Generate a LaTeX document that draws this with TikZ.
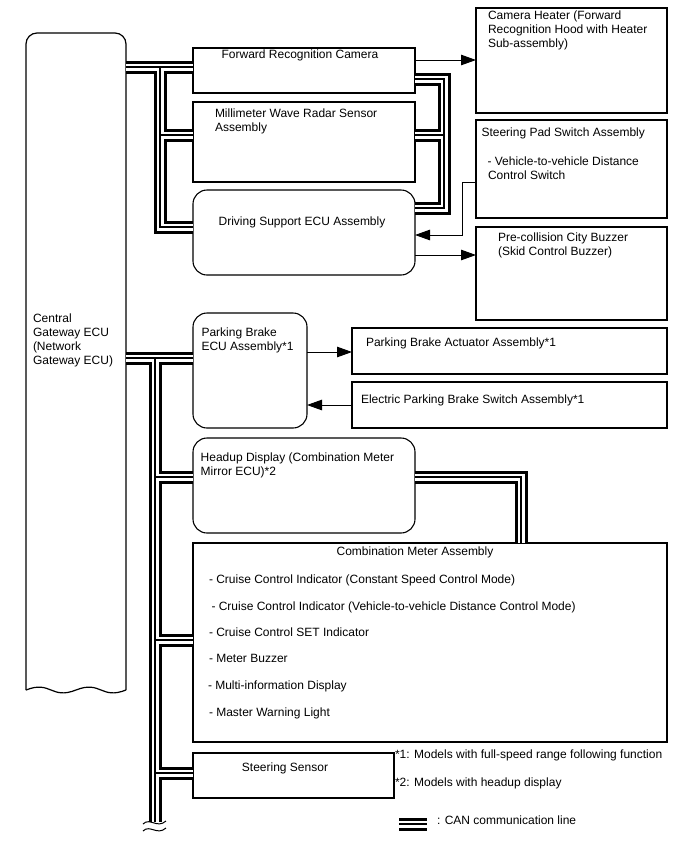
\documentclass[tikz,border=0pt]{standalone}
\usepackage{fontspec}
\setmainfont{Liberation Sans}
\usetikzlibrary{arrows.meta,calc}
\begin{document}
\begin{tikzpicture}[x=1pt,y=-1pt,
  box/.style={draw=black, line width=1.1pt, inner sep=0pt, outer sep=0pt, anchor=north west},
  rbox/.style={box, rounded corners=14pt},
  ghost/.style={inner sep=0pt, outer sep=0pt, anchor=north west},
  txt/.style={anchor=base west, inner sep=0pt, outer sep=0pt, font=\fontsize{12}{14}\selectfont},
  ctxt/.style={txt, anchor=base},
  arr/.style={line width=1pt, -{Triangle[length=15pt,width=10.5pt]}},
  plain/.style={line width=1pt}]
\useasboundingbox (0,0) rectangle (688,852);

% ---------- boxes ----------
\node[ghost, minimum width=100pt, minimum height=657pt] (cgw) at (26,33) {};
\node[box, minimum width=222pt, minimum height=45pt] (cam) at (193,48) {};
\node[box, minimum width=222pt, minimum height=80pt] (mmw) at (193,102) {};
\node[rbox, minimum width=222pt, minimum height=85pt] (ds) at (193,190) {};
\node[box, minimum width=191pt, minimum height=105pt] (heat) at (476,8) {};
\node[box, minimum width=191pt, minimum height=98pt] (spad) at (476,120) {};
\node[box, minimum width=191pt, minimum height=93pt] (pcb) at (476,227) {};
\node[rbox, minimum width=114pt, minimum height=115pt] (pbe) at (193,313) {};
\node[box, minimum width=315pt, minimum height=46pt] (act) at (352,328) {};
\node[box, minimum width=315pt, minimum height=46pt] (epb) at (352,382) {};
\node[rbox, minimum width=222pt, minimum height=95pt] (hud) at (193,438) {};
\node[box, minimum width=474pt, minimum height=199pt] (cmb) at (193,543) {};
\node[box, minimum width=201pt, minimum height=45pt] (sts) at (193,753) {};

% central gateway outline (rounded top, broken bottom)
\draw[line width=1.2pt, rounded corners=11pt] (cgw.south west) -- (cgw.north west) -- (cgw.north east) -- (cgw.south east);
\draw[line width=1.2pt] (cgw.south west) .. controls ($(cgw.south west)+(25,-10)$) and ($(cgw.south)+(-25,10)$) .. (cgw.south)
  .. controls ($(cgw.south)+(25,-10)$) and ($(cgw.south east)+(-25,10)$) .. (cgw.south east);

% ---------- CAN junction coordinates ----------
\coordinate (ja) at (160,67);
\coordinate (jb) at (160,135);
\coordinate (jc) at (160,227);
\coordinate (ka) at (444,79);
\coordinate (kb) at (444,135);
\coordinate (kc) at (444,208);
\coordinate (la) at (155,358);
\coordinate (lb) at (155,477);
\coordinate (lc) at (155,640);
\coordinate (ld) at (155,773);
\coordinate (le) at (155,822);
\coordinate (ma) at (521,477);
\coordinate (g1) at (399,824);
\coordinate (g2) at (427,824);

% ---------- CAN lines (three passes) ----------
\foreach \w/\c in {13pt/black, 7pt/white, 1.8pt/black}{
  \draw[line width=\w, draw=\c]
    (cgw.east |- ja) -- (cam.west |- ja)
    (ja) -- (jc) -- (ds.west |- jc)
    (jb) -- (mmw.west |- jb)
    (cam.east |- ka) -- (ka) -- (kc) -- (ds.east |- kc)
    (kb) -- (mmw.east |- kb)
    (cgw.east |- la) -- (pbe.west |- la)
    (la) -- (le)
    (lb) -- (hud.west |- lb)
    (lc) -- (cmb.west |- lc)
    (ld) -- (sts.west |- ld)
    (hud.east |- ma) -- (ma) -- (ma |- cmb.north)
    (g1) -- (g2);
}
% break mark at the end of the bus
\draw[line width=1pt] (143,824) .. controls (150,817) and (157,829) .. (166,821);
\draw[line width=1pt] (143,831) .. controls (150,824) and (157,836) .. (166,828);

% ---------- signal lines ----------
\draw[arr] (cam.east |- 0,60) -- (heat.west |- 0,60);
\draw[arr] (ds.east |- 0,255) -- (pcb.west |- 0,255);
\coordinate (sp) at (462,182);
\draw[arr] (spad.west |- sp) -- (sp) -- (sp |- 0,235) -- (ds.east |- 0,235);
\draw[arr] (pbe.east |- 0,352) -- (act.west |- 0,352);
\draw[arr] (epb.west |- 0,405) -- (pbe.east |- 0,405);

% ---------- texts ----------
\node[txt] (t01) at (33,322.5) {Central};
\node[txt] (t02) at (33,336.5) {Gateway ECU};
\node[txt] (t03) at (33,350.5) {(Network};
\node[txt] (t04) at (33,364.5) {Gateway ECU)};
\node[ctxt] (t05) at (300,58.5) {Forward Recognition Camera};
\node[txt] (t06) at (215,117) {Millimeter Wave Radar Sensor};
\node[txt] (t07) at (215,131) {Assembly};
\node[ctxt] (t08) at (302,225) {Driving Support ECU Assembly};
\node[txt] (t09) at (488,19.5) {Camera Heater (Forward};
\node[txt] (t10) at (488,33.5) {Recognition Hood with Heater};
\node[txt] (t11) at (488,47.5) {Sub-assembly)};
\node[txt] (t12) at (481.5,136) {Steering Pad Switch Assembly};
\node[txt] (t13) at (487.5,165) {- Vehicle-to-vehicle Distance};
\node[txt] (t14) at (488,179) {Control Switch};
\node[txt] (t15) at (498,241.5) {Pre-collision City Buzzer};
\node[txt] (t16) at (498,255.5) {(Skid Control Buzzer)};
\node[txt] (t17) at (201.5,336.5) {Parking Brake};
\node[txt] (t18) at (201.5,350.5) {ECU Assembly*1};
\node[txt] (t19) at (366,346.5) {Parking Brake Actuator Assembly*1};
\node[txt] (t20) at (361,403) {Electric Parking Brake Switch Assembly*1};
\node[txt] (t21) at (200.7,461.7) {Headup Display (Combination Meter};
\node[txt] (t22) at (200.7,475.7) {Mirror ECU)*2};
\node[ctxt] (t23) at (415,555) {Combination Meter Assembly};
\node[txt] (t24) at (209,583.3) {- Cruise Control Indicator (Constant Speed Control Mode)};
\node[txt] (t25) at (211.5,610) {- Cruise Control Indicator (Vehicle-to-vehicle Distance Control Mode)};
\node[txt] (t26) at (209,636) {- Cruise Control SET Indicator};
\node[txt] (t27) at (209,662.7) {- Meter Buzzer};
\node[txt] (t28) at (208,689.3) {- Multi-information Display};
\node[txt] (t29) at (209,716.7) {- Master Warning Light};
\node[ctxt] (t30) at (285,771.7) {Steering Sensor};
\node[txt] (t31) at (395,758.3) {*1: Models with full-speed range following function};
\node[txt] (t32) at (395,786.7) {*2: Models with headup display};
\node[txt] (t33) at (437,824) {: CAN communication line};
\end{tikzpicture}
\end{document}
